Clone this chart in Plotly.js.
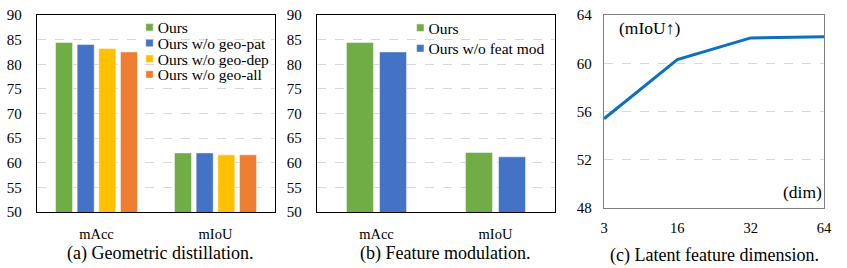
<!DOCTYPE html>
<html>
<head>
<meta charset="utf-8">
<script src="https://cdn.plot.ly/plotly-3.0.1.min.js"></script>
<style>
html,body{margin:0;padding:0;background:#fff;}
#chart{width:847px;height:268px;}
#chart text{font-family:'Liberation Serif', serif !important;}
</style>
</head>
<body>
<div id="chart"></div>
<script>
// ---- data ----
const metrics = ['mAcc', 'mIoU'];
const geoOurs = [84.4, 62.0];
const geoNoPat = [84.0, 62.0];
const geoNoDep = [83.2, 61.6];
const geoNoAll = [82.5, 61.6];
const featOurs = [84.4, 62.1];
const featNoMod = [82.5, 61.2];
const dims = ['3', '16', '32', '64'];
const dimMiou = [55.4, 60.3, 62.1, 62.2];
const barTicks = [50, 55, 60, 65, 70, 75, 80, 85, 90];
const lineTicks = [48, 52, 56, 60, 64];

// ---- style ----
const FONT = 'Liberation Serif';
const GREEN = '#70ad47', BLUE = '#4472c4', YELLOW = '#ffc000', ORANGE = '#ed7d31';
const edge = {color: 'rgba(255,255,255,0.6)', width: 0.8};

function bar(name, y, color, xa, ya, offset, width, legend) {
  return {type: 'bar', name: name, x: metrics, y: y, base: 0,
    marker: {color: color, line: edge}, xaxis: xa, yaxis: ya,
    offset: offset, width: width, legend: legend, hoverinfo: 'skip'};
}

const wa = 0.143, wb = 0.227;
const data = [
  bar('Ours', geoOurs, GREEN, 'x', 'y', -0.3445, wa, 'legend'),
  bar('Ours w/o geo-pat', geoNoPat, BLUE, 'x', 'y', -0.1625, wa, 'legend'),
  bar('Ours w/o geo-dep', geoNoDep, YELLOW, 'x', 'y', 0.0195, wa, 'legend'),
  bar('Ours w/o geo-all', geoNoAll, ORANGE, 'x', 'y', 0.2015, wa, 'legend'),
  bar('Ours', featOurs, GREEN, 'x2', 'y2', -0.2525, wb, 'legend2'),
  bar('Ours w/o feat mod', featNoMod, BLUE, 'x2', 'y2', 0.0255, wb, 'legend2'),
  {type: 'scatter', mode: 'lines', x: dims, y: dimMiou, xaxis: 'x3', yaxis: 'y3',
   line: {color: '#0a70c0', width: 3}, showlegend: false, hoverinfo: 'skip'}
];

const W = 847, H = 268;
function px(x) { return x / W; }
function py(y) { return 1 - y / H; }

function barY(domainY) {
  return {domain: domainY, range: [50, 90], tickvals: barTicks, showgrid: true,
    gridcolor: '#d9d9d9', griddash: 'dash', gridwidth: 1, zeroline: false,
    showline: true, linecolor: '#000', linewidth: 1.3, mirror: true, ticks: '',
    ticklabelstandoff: 11, tickfont: {family: FONT, size: 15, color: '#000'}};
}
function barX(domainX, anchor) {
  return {domain: domainX, anchor: anchor, type: 'category', range: [-0.5, 1.5],
    showgrid: false, zeroline: false, showline: true, linecolor: '#000', linewidth: 1.3,
    mirror: true, ticks: '', ticklabelstandoff: 8,
    tickfont: {family: FONT, size: 14.5, color: '#000'}};
}

const yDomAB = [py(212), py(15)];
const yDomC = [py(208), py(15)];
const LEG_TOP = 10;

const layout = {
  width: W, height: H, margin: {l: 0, r: 0, t: 0, b: 0},
  paper_bgcolor: '#fff', plot_bgcolor: '#fff', showlegend: true,
  barmode: 'group',
  font: {family: FONT, size: 15, color: '#000'},
  xaxis: barX([px(37), px(275)], 'y'),
  yaxis: Object.assign(barY(yDomAB), {anchor: 'x'}),
  xaxis2: barX([px(317), px(555)], 'y2'),
  yaxis2: Object.assign(barY(yDomAB), {anchor: 'x2'}),
  xaxis3: {domain: [px(604), px(824)], anchor: 'y3', type: 'category', range: [0, 3],
    showgrid: false, zeroline: false, showline: true, linecolor: '#7f7f7f', linewidth: 1.2,
    mirror: true, ticks: '', ticklabelstandoff: 6,
    tickfont: {family: FONT, size: 14.5, color: '#000'}},
  yaxis3: {domain: yDomC, anchor: 'x3', range: [48, 64], tickvals: lineTicks,
    showgrid: true, gridcolor: '#d9d9d9', griddash: 'dash', zeroline: false,
    showline: true, linecolor: '#7f7f7f', linewidth: 1.2, mirror: true, ticks: '',
    ticklabelstandoff: 8, tickfont: {family: FONT, size: 15, color: '#000'}},
  legend: {x: px(129.5), y: py(LEG_TOP), xanchor: 'left', yanchor: 'top', bgcolor: 'rgba(0,0,0,0)',
    borderwidth: 0, font: {family: FONT, size: 15.5, color: '#000'}, tracegroupgap: 0},
  legend2: {x: px(400.3), y: py(LEG_TOP), xanchor: 'left', yanchor: 'top', bgcolor: 'rgba(0,0,0,0)',
    borderwidth: 0, font: {family: FONT, size: 15.5, color: '#000'}, tracegroupgap: 0},
  annotations: [
    {text: '(a) Geometric distillation.', xref: 'paper', yref: 'paper', x: px(160), y: py(253),
     showarrow: false, xanchor: 'center', yanchor: 'middle', font: {family: FONT, size: 18}},
    {text: '(b) Feature modulation.', xref: 'paper', yref: 'paper', x: px(445), y: py(253),
     showarrow: false, xanchor: 'center', yanchor: 'middle', font: {family: FONT, size: 18}},
    {text: '(c) Latent feature dimension.', xref: 'paper', yref: 'paper', x: px(714), y: py(255),
     showarrow: false, xanchor: 'center', yanchor: 'middle', font: {family: FONT, size: 18}},
    {text: '(mIoU↑)', xref: 'paper', yref: 'paper', x: px(617), y: py(28),
     showarrow: false, xanchor: 'left', yanchor: 'middle', font: {family: FONT, size: 17.5}},
    {text: '(dim)', xref: 'paper', yref: 'paper', x: px(824), y: py(192),
     showarrow: false, xanchor: 'right', yanchor: 'middle', font: {family: FONT, size: 17.5}}
  ]
};

// compact legend rows like the reference (row centres in px from the top)
const legendRows = {legend: [27.3, 43.0, 58.7, 74.4], legend2: [27.7, 48.3]};
const TEXT_GAP = 4.5;

function tidyLegends(gd) {
  try {
    const counters = {};
    gd.querySelectorAll('g.traces').forEach(function (tr) {
      let lg = tr.parentNode;
      while (lg && lg !== gd && !(lg.classList && (lg.classList.contains('legend') || lg.classList.contains('legend2')))) lg = lg.parentNode;
      if (!lg || lg === gd) return;
      const cls = lg.classList.contains('legend2') ? 'legend2' : 'legend';
      const i = counters[cls] = (counters[cls] === undefined ? 0 : counters[cls] + 1);
      const rows = legendRows[cls];
      if (i < rows.length) tr.setAttribute('transform', 'translate(0,' + (rows[i] - LEG_TOP) + ')');
      const sq = tr.querySelector('.legendpoints path');
      if (sq) sq.setAttribute('d', 'M3.7,3.7H-3.7V-3.7H3.7Z');
      const t = tr.querySelector('text');
      if (t && sq) {
        t.removeAttribute('transform');
        const sr = sq.getBoundingClientRect();
        const trc = t.getBoundingClientRect();
        const dx = sr.right + TEXT_GAP - trc.left;
        if (Math.abs(dx) > 0.5) t.setAttribute('transform', 'translate(' + dx.toFixed(1) + ',0)');
      }
    });
  } catch (e) {}
}

Plotly.newPlot('chart', data, layout, {staticPlot: true, displayModeBar: false}).then(function (gd) {
  tidyLegends(gd);
  gd.on('plotly_afterplot', function () { tidyLegends(gd); });
  setTimeout(function () { tidyLegends(gd); }, 0);
  setTimeout(function () { tidyLegends(gd); }, 150);
  setTimeout(function () { tidyLegends(gd); }, 500);
});
</script>
</body>
</html>
